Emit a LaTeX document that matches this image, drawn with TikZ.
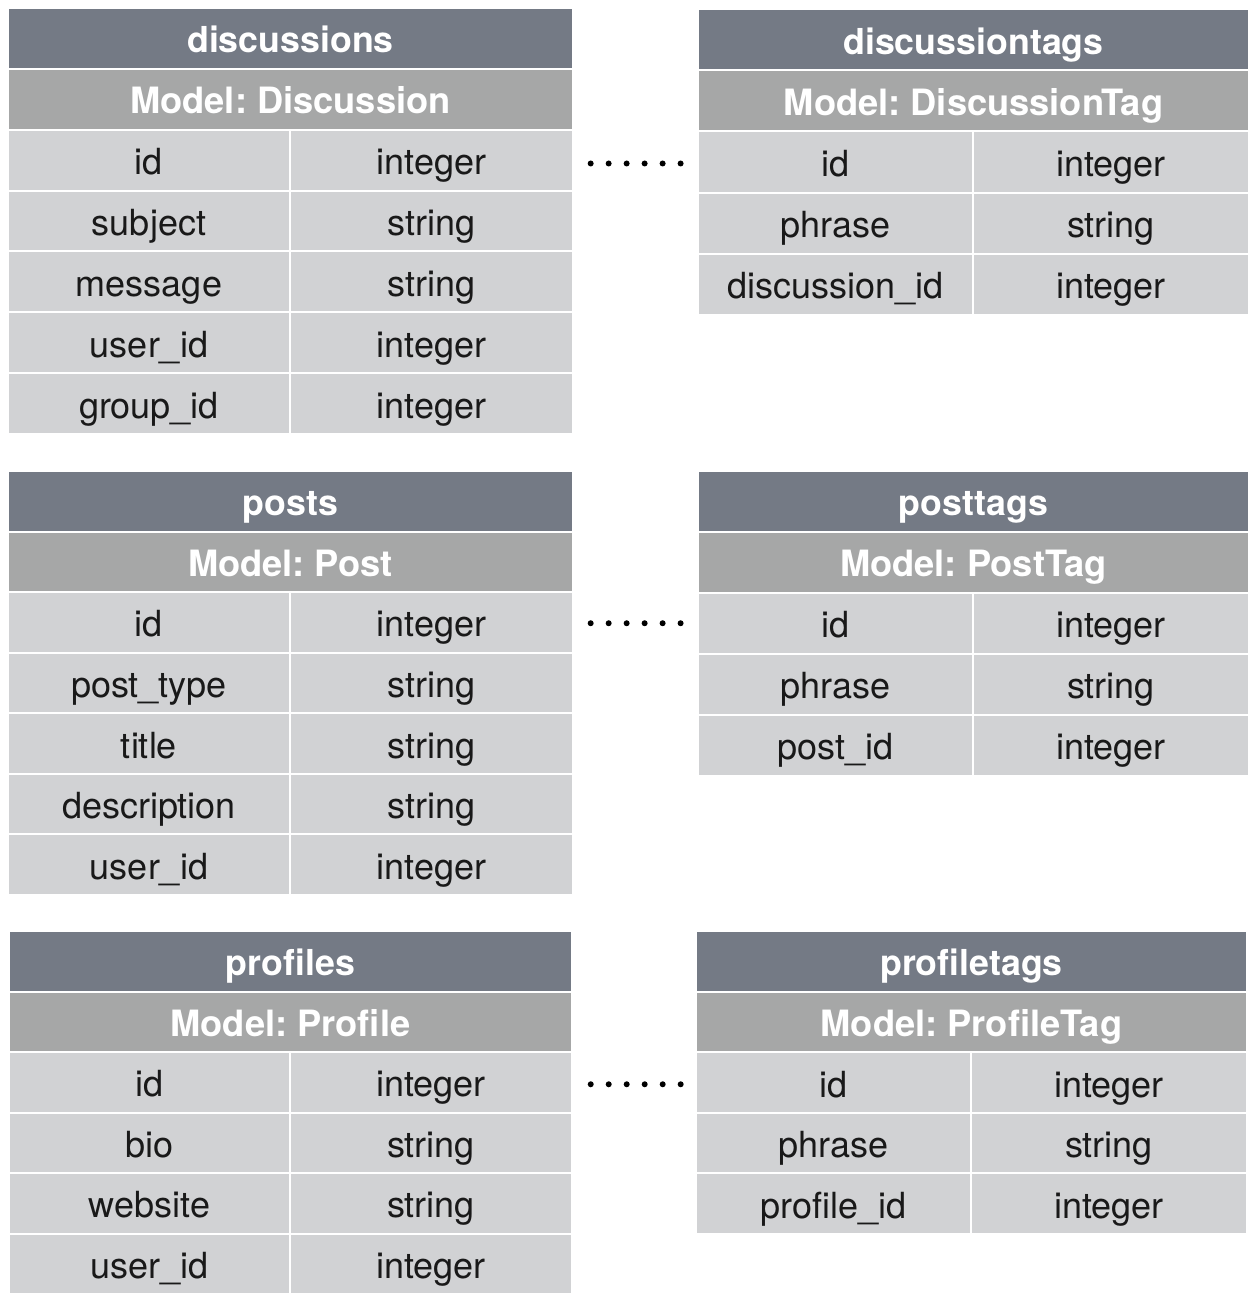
\documentclass[tikz,border=0pt]{standalone}
\usepackage{fontspec}
\setmainfont{TeX Gyre Heros}
\usetikzlibrary{calc}

\definecolor{headgray}{RGB}{116,122,133}
\definecolor{modelgray}{RGB}{166,167,167}
\definecolor{rowgray}{RGB}{209,210,212}

\tikzset{
  cell/.style={rectangle, inner sep=0pt, outer sep=0pt, anchor=north west,
    text height=21.75pt, text depth=0pt},
  titlecell/.style={cell, fill=headgray, text=white,
    font=\fontsize{26.8}{30}\selectfont\bfseries},
  modelcell/.style={cell, fill=modelgray, text=white,
    font=\fontsize{27.2}{30}\selectfont\bfseries},
  fieldcell/.style={cell, fill=rowgray, text=black!90,
    font=\fontsize{27}{30}\selectfont},
  dotlink/.style={line width=4.5pt, line cap=round,
    dash pattern=on 0pt off 13.49pt},
}

% #1 name, #2 left x, #3 column split x, #4 right x, #5 top y,
% #6 row pitch, #7 table name, #8 model line, #9 field/type list
\newcommand\dbtable[9]{%
  \pgfmathsetmacro\cellh{(#6-2)*0.75}%
  \pgfmathsetmacro\fullw{(#4-#2)*0.75}%
  \pgfmathsetmacro\leftw{(#3-#2)*0.75}%
  \pgfmathsetmacro\rightw{(#4-#3-2)*0.75}%
  \node[titlecell, minimum width=\fullw pt, minimum height=\cellh pt]
    (#1-title) at (#2,#5) {#7};
  \node[modelcell, minimum width=\fullw pt, minimum height=\cellh pt]
    (#1-model) at (#2,{#5+#6}) {#8};
  \foreach \fname/\ftype [count=\i] in {#9} {
    \node[fieldcell, minimum width=\leftw pt, minimum height=\cellh pt]
      (#1-\i-name) at (#2,{#5+(\i+1)*#6}) {\fname};
    \node[fieldcell, minimum width=\rightw pt, minimum height=\cellh pt]
      (#1-\i-type) at ({#3+2},{#5+(\i+1)*#6}) {\ftype};
  }%
}

\frenchspacing
\begin{document}
\begin{tikzpicture}[x=0.75pt, y=-0.75pt]
  \useasboundingbox (0,0) rectangle (1256,1304);

  \dbtable{disc}{9}{289}{572}{9}{60.86}{discussions}{Model: Discussion}
    {id/integer, subject/string, message/string, user\_id/integer, group\_id/integer}
  \dbtable{dtag}{699}{972}{1248}{10}{61.2}{discussiontags}{Model: DiscussionTag}
    {id/integer, phrase/string, discussion\_id/integer}

  \dbtable{post}{9}{289}{572}{472}{60.57}{posts}{Model: Post}
    {id/integer, post\_type/string, title/string, description/string, user\_id/integer}
  \dbtable{ptag}{699}{972}{1248}{472}{60.9}{posttags}{Model: PostTag}
    {id/integer, phrase/string, post\_id/integer}

  \dbtable{prof}{10}{289}{571}{932}{60.5}{profiles}{Model: Profile}
    {id/integer, bio/string, website/string, user\_id/integer}
  \dbtable{pftag}{697}{970}{1246}{932}{60.6}{profiletags}{Model: ProfileTag}
    {id/integer, phrase/string, profile\_id/integer}

  % dotted links between each table's id row and its tag table
  \draw[dotlink, shorten <=14pt, shorten >=13.5pt]
    ([yshift=-2.5pt]disc-1-type.east) -- ([yshift=-2.5pt]disc-1-type.east -| dtag-1-name.west);
  \draw[dotlink, shorten <=14pt, shorten >=13.5pt]
    ([yshift=-0.6pt]post-1-type.east) -- ([yshift=-0.6pt]post-1-type.east -| ptag-1-name.west);
  \draw[dotlink, shorten <=14.8pt, shorten >=12pt]
    ([yshift=-1.5pt]prof-1-type.east) -- ([yshift=-1.5pt]prof-1-type.east -| pftag-1-name.west);
\end{tikzpicture}
\end{document}
